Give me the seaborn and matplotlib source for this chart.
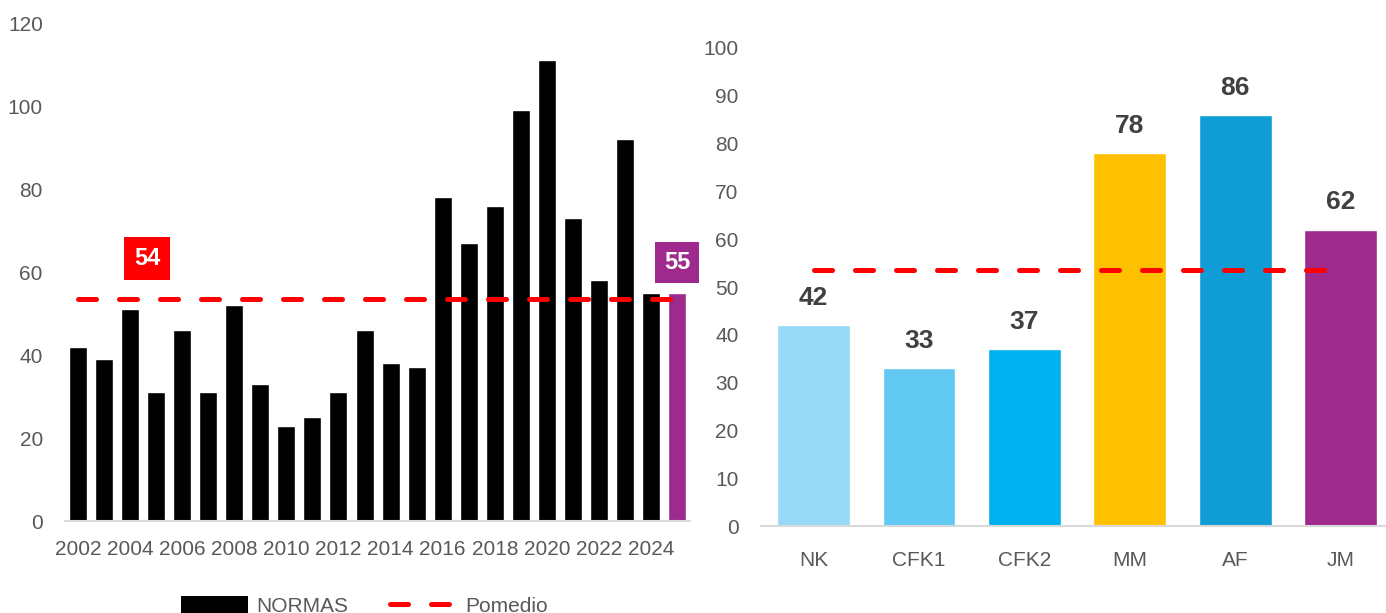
import numpy as np
import pandas as pd
import matplotlib
matplotlib.use("Agg")
import matplotlib.pyplot as plt
import seaborn as sns
from matplotlib.patches import Patch
from matplotlib.lines import Line2D

# data
years = [str(y) for y in range(2002, 2026)]
normas = [42, 39, 51, 31, 46, 31, 52, 33, 23, 25, 31, 46, 38, 37,
          78, 67, 76, 99, 111, 73, 58, 92, 55, 55]
promedio = 53.6
promedio_label = "54"
last_label = "55"

presidents = ["NK", "CFK1", "CFK2", "MM", "AF", "JM"]
pres_values = [42, 33, 37, 78, 86, 62]
pres_colors = ["#97D9F6", "#61C9F1", "#00B0F0", "#FFC000", "#109DD6", "#9E2A8E"]

sns.set_theme(style="white")
plt.rcParams["font.family"] = ["Liberation Sans", "DejaVu Sans"]

grey = "#595959"
red = "#FF0000"
purple = "#9E2A8E"
dash_kw = dict(color=red, lw=3.6, dashes=(3.6, 4.6), dash_capstyle="round")

fig = plt.figure(figsize=(13.86, 6.13), dpi=100)
ax1 = fig.add_axes([0.0469, 0.150, 0.451, 0.8124])
ax2 = fig.add_axes([0.549, 0.1419, 0.451, 0.7798])

# left chart: yearly normas
df1 = pd.DataFrame({"year": years, "normas": normas})
bar_cols = ["black"] * (len(years) - 1) + [purple]
sns.barplot(data=df1, x="year", y="normas", hue="year", palette=bar_cols,
            width=0.69, legend=False, ax=ax1, saturation=1)
ax1.plot(np.arange(len(years)), [promedio] * len(years), **dash_kw)
ax1.set_ylim(0, 120)
ax1.set_xlim(-0.5, len(years) - 0.5)
ax1.set_yticks(range(0, 121, 20))
ax1.set_xticks(range(0, len(years), 2))
ax1.set_xticklabels(years[::2])
ax1.text(2.65, 63.2, promedio_label, color="white", fontsize=17, fontweight="bold",
         ha="center", va="center",
         bbox=dict(boxstyle="square,pad=0.42", fc=red, ec="none"))
ax1.text(len(years) - 1, 62.2, last_label, color="white", fontsize=17, fontweight="bold",
         ha="center", va="center",
         bbox=dict(boxstyle="square,pad=0.38", fc=purple, ec="none"))

# right chart: by presidency
df2 = pd.DataFrame({"pres": presidents, "value": pres_values})
sns.barplot(data=df2, x="pres", y="value", hue="pres", palette=pres_colors,
            width=0.69, legend=False, ax=ax2, saturation=1)
ax2.plot(np.arange(len(presidents)), [promedio] * len(presidents), **dash_kw)
ax2.set_ylim(0, 100)
ax2.set_xlim(-0.5, len(presidents) - 0.57)
ax2.set_yticks(range(0, 101, 10))
for cont in ax2.containers:
    ax2.bar_label(cont, fmt="%d", padding=11, fontsize=19, fontweight="bold",
                  color="#404040")

for ax in (ax1, ax2):
    ax.set_xlabel("")
    ax.set_ylabel("")
    for side in ("left", "right", "top"):
        ax.spines[side].set_visible(False)
    ax.spines["bottom"].set_color("#D9D9D9")
    ax.spines["bottom"].set_linewidth(1.5)
    ax.tick_params(axis="both", length=0, labelsize=15, labelcolor=grey)
ax1.tick_params(axis="y", pad=16)
ax1.tick_params(axis="x", pad=14)
ax2.tick_params(axis="y", pad=16)
ax2.tick_params(axis="x", pad=18)

handles = [Patch(facecolor="black", edgecolor="none"),
           Line2D([0], [0], **dash_kw)]
fig.legend(handles, ["NORMAS", "Pomedio"], loc="center", bbox_to_anchor=(0.263, 0.012),
           ncol=2, frameon=False, fontsize=15, labelcolor=grey,
           handlelength=3.2, handleheight=0.9, handletextpad=0.4, columnspacing=2.0)

fig.savefig("out.png", dpi=100)
